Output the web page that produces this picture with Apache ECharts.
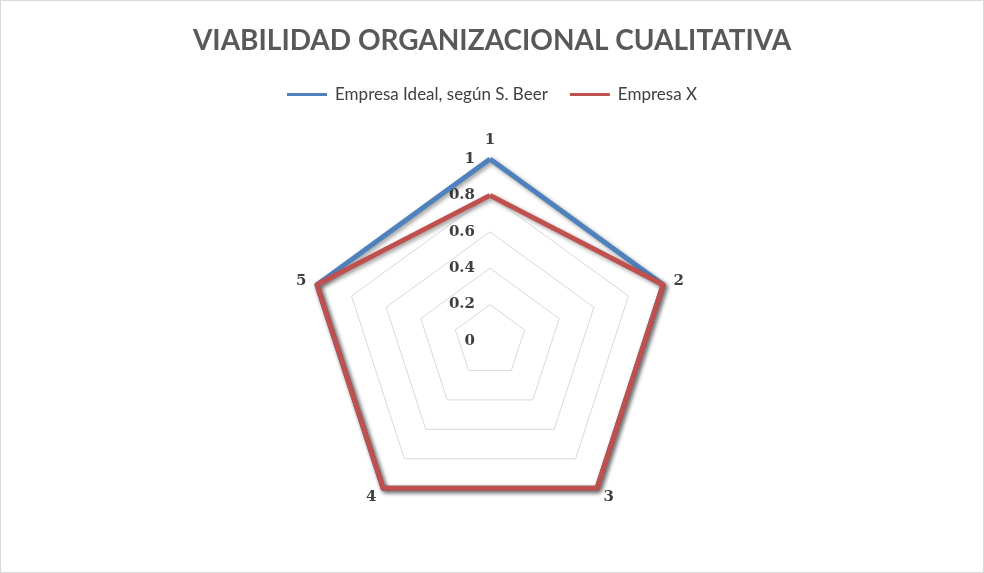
<!DOCTYPE html>
<html><head><meta charset="utf-8">
<script src="https://cdn.jsdelivr.net/npm/echarts@6/dist/echarts.min.js"></script>
<style>html,body{margin:0;padding:0;background:#fff}#c{width:984px;height:573px}</style>
</head><body><div id="c"></div>
<script>
const categories = ['1', '2', '3', '4', '5'];
const idealValues = [1, 1, 1, 1, 1];
const empresaXValues = [0.8, 1, 1, 1, 1];
const seriesNames = ['Empresa Ideal, según S. Beer', 'Empresa X'];

// ECharts lays indicators out counter-clockwise; reorder so they run clockwise like the reference
const order = [0, 4, 3, 2, 1];
const reorder = arr => order.map(i => arr[i]);

const chart = echarts.init(document.getElementById('c'));
const shadow = {shadowColor: 'rgba(0,0,0,0.4)', shadowBlur: 4, shadowOffsetX: 2, shadowOffsetY: 2};
chart.setOption({
  backgroundColor: '#fff',
  title: {
    text: 'VIABILIDAD ORGANIZACIONAL CUALITATIVA',
    left: 'center', top: 22,
    textStyle: {fontFamily: 'Lato', fontWeight: 'bold', fontSize: 28, color: '#595959'}
  },
  legend: {
    top: 81, left: 'center', itemWidth: 40, itemHeight: 3, itemGap: 22,
    icon: 'rect',
    textStyle: {fontFamily: 'Lato', fontSize: 17, color: '#404040', padding: [0, 0, 0, 3]},
    data: seriesNames
  },
  radar: {
    center: [490, 341], radius: 182, startAngle: 90, shape: 'polygon',
    splitNumber: 5,
    indicator: reorder(categories).map((c, k) => ({
      name: c, min: 0, max: 1,
      axisLabel: {show: k === 0}
    })),
    axisName: {color: '#404040', fontFamily: 'DejaVu Serif', fontWeight: 'bold', fontSize: 15},
    nameGap: 11,
    axisLine: {show: false},
    axisTick: {show: false},
    splitArea: {show: false},
    splitLine: {lineStyle: {color: '#d9d9d9', width: 1}},
    axisLabel: {show: true, margin: 15, color: '#404040', fontFamily: 'DejaVu Serif', fontWeight: 'bold', fontSize: 15}
  },
  series: [{
    type: 'radar', symbol: 'none',
    data: [
      {name: seriesNames[0], value: reorder(idealValues), itemStyle: {color: '#4f81bd'},
       lineStyle: Object.assign({color: '#4f81bd', width: 5}, shadow)},
      {name: seriesNames[1], value: reorder(empresaXValues), itemStyle: {color: '#c0504d'},
       lineStyle: Object.assign({color: '#c0504d', width: 5}, shadow)}
    ]
  }]
});
</script>
<div style="position:absolute;left:0;top:0;width:982px;height:571px;border:1px solid #d9d9d9;pointer-events:none"></div>
</body></html>
